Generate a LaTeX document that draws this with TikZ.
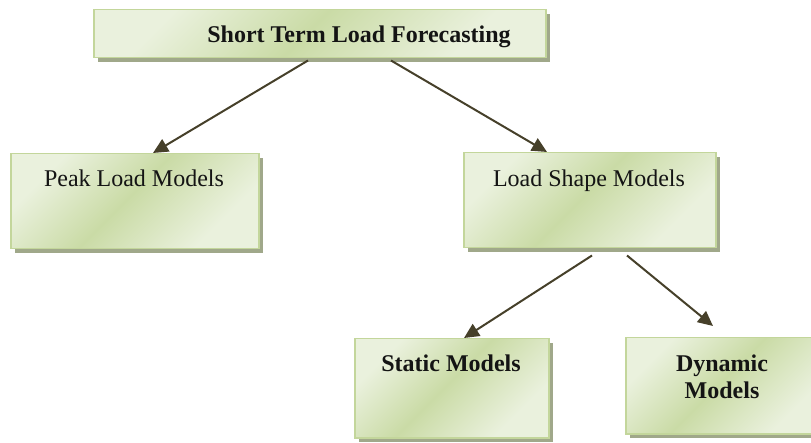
\documentclass[tikz,border=0pt]{standalone}
\usepackage{fontspec}
\setmainfont{Liberation Serif}
\usetikzlibrary{arrows.meta,shadows,calc}

\definecolor{boxlight}{RGB}{234,241,221}
\definecolor{boxdark}{RGB}{202,219,166}
\definecolor{boxedge}{RGB}{195,214,155}
\definecolor{boxshadow}{RGB}{160,168,138}
\definecolor{arrowcol}{RGB}{70,64,42}
\definecolor{inkcol}{RGB}{20,20,20}

% diagonal light-dark-light sheen used to fill the boxes
\pgfdeclarehorizontalshading{sheen}{100bp}{%
  color(0bp)=(boxlight); color(26bp)=(boxlight); color(48bp)=(boxdark);
  color(72bp)=(boxlight); color(100bp)=(boxlight)}

\tikzset{
  greenbox/.style={draw=boxedge, line width=1.5pt, shading=sheen, shading angle=-45,
    drop shadow={shadow xshift=4pt, shadow yshift=-4pt, fill=boxshadow, opacity=1},
    inner sep=0pt, anchor=north west},
  boxtext/.style={font=\fontsize{24}{28}\selectfont, text=inkcol, inner sep=0pt,
    anchor=base, align=center},
  flow/.style={draw=arrowcol, line width=2pt,
    -{Triangle[length=15pt,width=14pt]}, arrowcol},
}

\begin{document}
\begin{tikzpicture}[x=1pt,y=-1pt]
\useasboundingbox (0,0) rectangle (811,443);

% boxes
\node[greenbox, minimum width=452pt, minimum height=48pt] (top) at (93,9) {};
\node[greenbox, minimum width=248pt, minimum height=95pt] (peak) at (10,153) {};
\node[greenbox, minimum width=252pt, minimum height=95pt] (shape) at (463,152) {};
\node[greenbox, minimum width=194pt, minimum height=99pt] (static) at (354,338) {};
\node[greenbox, minimum width=200pt, minimum height=96pt] (dynamic) at (625,337) {};

% labels
\node[boxtext, font=\fontsize{24}{28}\selectfont\bfseries] (toptext) at (359,43) {Short Term Load Forecasting};
\node[boxtext] (peaktext) at (134,187) {Peak Load Models};
\node[boxtext] (shapetext) at (589,187) {Load Shape Models};
\node[boxtext, font=\fontsize{24}{28}\selectfont\bfseries] (statictext) at (451,372) {Static Models};
\node[boxtext, font=\fontsize{24}{28}\selectfont\bfseries] (dynamictext) at (722,399) {Dynamic\\Models};

% connectors
\draw[flow] ($(top.south west)+(215,2)$) -- ($(peak.north west)+(143,0)$);
\draw[flow] ($(top.south west)+(298,2)$) -- ($(shape.north west)+(84,0)$);
\draw[flow] ($(shape.south west)+(129,7)$) -- ($(static.north west)+(110,0)$);
\draw[flow] ($(shape.south west)+(164,7)$) -- ($(dynamic.north west)+(88,-11)$);
\end{tikzpicture}
\end{document}
